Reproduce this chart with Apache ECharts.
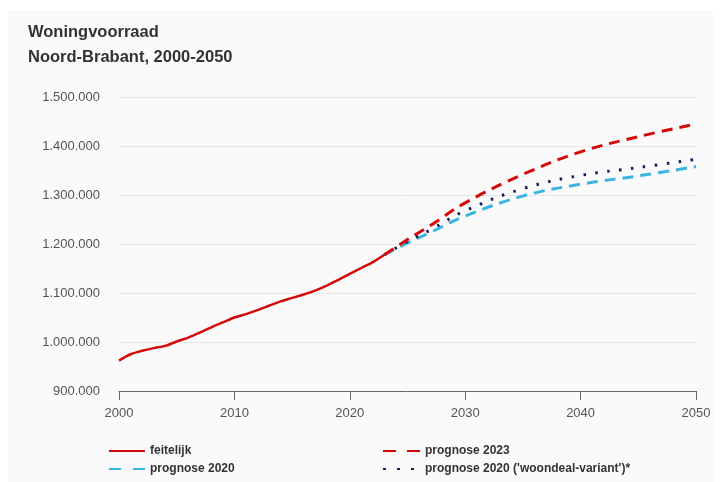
<!DOCTYPE html>
<html>
<head>
<meta charset="utf-8">
<script src="https://cdn.jsdelivr.net/npm/echarts@6/dist/echarts.min.js"></script>
<style>html,body{margin:0;padding:0;background:#fff;}#c{width:720px;height:482px;}</style>
</head>
<body>
<div id="c"></div>
<script>
const yearsActual = [2000,2001,2002,2003,2004,2005,2006,2007,2008,2009,2010,2011,2012,2013,2014,2015,2016,2017,2018,2019,2020,2021,2022,2023];
const valuesActual = [962000,975000,982000,987500,992000,1001000,1009000,1019000,1030000,1040000,1050000,1057000,1065000,1074000,1083000,1090000,1097000,1105000,1115000,1127000,1139000,1151000,1163000,1178000];

const yearsP2023 = [2023,2025,2027,2030,2035,2040,2045,2050];
const valuesP2023 = [1178000,1209000,1238000,1284000,1342000,1388000,1419000,1445000];

const yearsP2020 = [2023,2025,2027,2030,2035,2040,2045,2050];
const valuesP2020 = [1178000,1202000,1224000,1257000,1298000,1322000,1339000,1358000];

const yearsWoondeal = [2023,2025,2027,2030,2035,2040,2045,2050];
const valuesWoondeal = [1178000,1205000,1229000,1268000,1313000,1340000,1356000,1373000];

const xTicks = [2000,2010,2020,2030,2040,2050];
const yTicks = [900000,1000000,1100000,1200000,1300000,1400000,1500000];

const names = ['feitelijk','prognose 2023','prognose 2020',"prognose 2020 ('woondeal-variant')*"];

function pairs(xs, ys){ return xs.map((x,i)=>[x, ys[i]]); }
function fmt(v){ return String(v).replace(/\B(?=(\d{3})+(?!\d))/g, '.'); }

const legendText = { color: '#333', fontWeight: 'bold', fontSize: 12 };

const chart = echarts.init(document.getElementById('c'));
chart.setOption({
  backgroundColor: '#ffffff',
  animation: false,
  textStyle: { fontFamily: 'Liberation Sans, Arial, sans-serif' },
  graphic: [
    { type: 'rect', z: -10, shape: { x: 8, y: 10, width: 705, height: 472 }, style: { fill: '#fafafa' } },
    { type: 'text', left: 28, top: 24, style: { text: 'Woningvoorraad', font: 'bold 16.5px Liberation Sans, Arial, sans-serif', fill: '#333' } },
    { type: 'text', left: 28, top: 49, style: { text: 'Noord-Brabant, 2000-2050', font: 'bold 16.5px Liberation Sans, Arial, sans-serif', fill: '#333' } }
  ],
  grid: { left: 119, right: 24, top: 97, bottom: 91 },
  xAxis: {
    type: 'value', min: 2000, max: 2050, interval: 10,
    axisLine: { show: true, lineStyle: { color: '#666', width: 1 } },
    axisTick: { show: true, length: 9, lineStyle: { color: '#666' } },
    axisLabel: { color: '#555', fontSize: 13, margin: 16, formatter: v => xTicks.includes(v) ? String(v) : '' },
    splitLine: { show: false }
  },
  yAxis: {
    type: 'value', min: yTicks[0], max: yTicks[yTicks.length-1], interval: 100000,
    axisLine: { show: false }, axisTick: { show: false },
    axisLabel: { color: '#555', fontSize: 13, margin: 19, formatter: v => fmt(v) },
    splitLine: { show: true, lineStyle: { color: '#e6e6e6', width: 1 } }
  },
  legend: [
    { data: [names[0], { name: names[2], lineStyle: { type: [12, 12] } }],
      left: 103, top: 440, orient: 'vertical', itemGap: 6, itemWidth: 36, itemHeight: 12,
      itemStyle: { opacity: 0 }, textStyle: legendText },
    { data: [{ name: names[1], lineStyle: { type: [13, 11] } }, { name: names[3], lineStyle: { type: [3, 11] } }],
      left: 377, top: 440, orient: 'vertical', itemGap: 6, itemWidth: 37, itemHeight: 12,
      itemStyle: { opacity: 0 }, textStyle: legendText }
  ],
  series: [
    { name: names[2], type: 'line', data: pairs(yearsP2020, valuesP2020), smooth: 0.4, symbol: 'none',
      lineStyle: { color: '#3bb4e2', width: 3, type: [11, 7] }, itemStyle: { color: '#3bb4e2' }, z: 2 },
    { name: names[3], type: 'line', data: pairs(yearsWoondeal, valuesWoondeal), smooth: 0.4, symbol: 'none',
      lineStyle: { color: '#1c1c5c', width: 3, type: [2.5, 9.5] }, itemStyle: { color: '#1c1c5c' }, z: 3 },
    { name: names[1], type: 'line', data: pairs(yearsP2023, valuesP2023), smooth: 0.4, symbol: 'none',
      lineStyle: { color: '#d40a0a', width: 3, type: [11, 7] }, itemStyle: { color: '#d40a0a' }, z: 4 },
    { name: names[0], type: 'line', data: pairs(yearsActual, valuesActual), smooth: 0.3, symbol: 'none',
      lineStyle: { color: '#d40a0a', width: 2.5 }, itemStyle: { color: '#d40a0a' }, z: 5 }
  ]
});
</script>
</body>
</html>
